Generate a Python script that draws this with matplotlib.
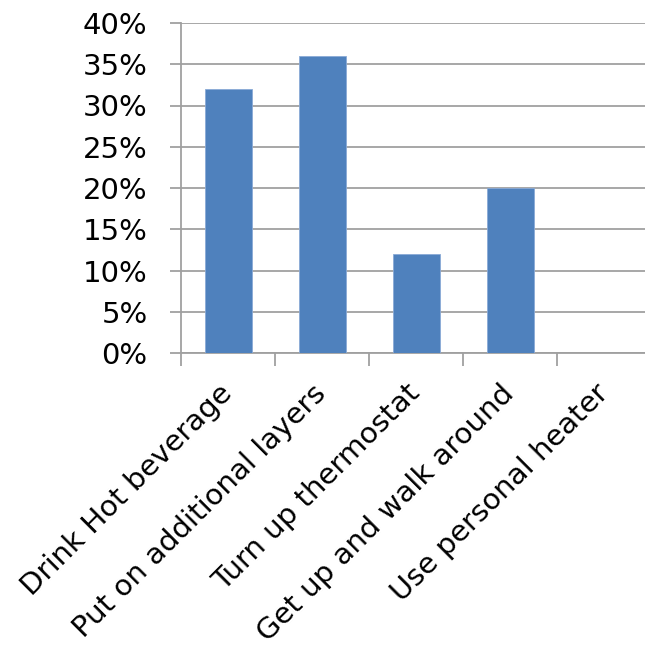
import matplotlib.pyplot as plt
import numpy as np
from matplotlib.ticker import FixedLocator, PercentFormatter

categories = ["Drink Hot beverage", "Put on additional layers", "Turn up thermostat",
              "Get up and walk around", "Use personal heater"]
values = [32, 36, 12, 20, 0]
yticks = [0, 5, 10, 15, 20, 25, 30, 35, 40]

grey = "#A0A0A0"
fig = plt.figure(figsize=(6.45, 6.55), dpi=100)
W, H = 645, 655
ax = fig.add_axes([181 / W, (H - 353) / H, 470 / W, 330 / H])

x = np.arange(len(categories))
ax.bar(x, values, width=0.5, color="#4F81BD", edgecolor="#8AAAD6", linewidth=0.6, zorder=3)

ax.set_xlim(-0.5, len(categories) - 0.5)
ax.set_ylim(0, 40)
ax.set_yticks(yticks)
ax.yaxis.set_major_formatter(PercentFormatter(decimals=0))
ax.grid(axis="y", color=grey, linewidth=1.3, zorder=0)

# category boundaries get the tick marks, labels sit at centres
ax.xaxis.set_major_locator(FixedLocator(np.arange(-0.5, len(categories), 1.0)))
ax.xaxis.set_minor_locator(FixedLocator(x))
ax.set_xticklabels([""] * (len(categories) + 1))
ax.set_xticklabels(categories, minor=True, rotation=45, ha="right",
                   va="center", rotation_mode="anchor")
ax.tick_params(axis="x", which="major", length=9, width=1.3, color=grey)
ax.tick_params(axis="x", which="minor", length=0, pad=26, labelsize=21)
ax.tick_params(axis="y", length=8, width=1.3, color=grey, pad=16, labelsize=21)

for s in ["top", "right"]:
    ax.spines[s].set_visible(False)
for s in ["left", "bottom"]:
    ax.spines[s].set_color(grey)
    ax.spines[s].set_linewidth(1.3)

plt.savefig("out.png", dpi=100)
